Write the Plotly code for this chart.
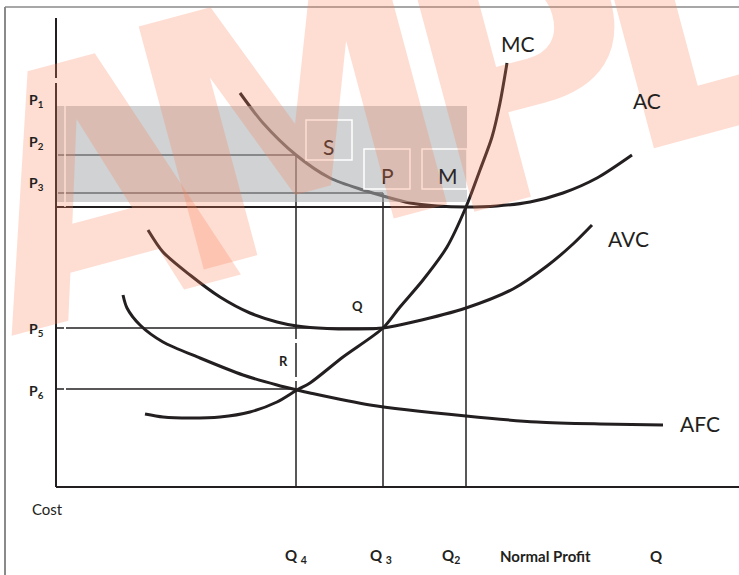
import plotly.graph_objects as go

# ---- data (x = quantity units, y = cost units; origin at the axes corner) ----
ac_q = [184, 207, 240, 274, 307, 327, 354, 381, 410, 441, 474, 507, 541, 576]
ac_c = [394, 364, 332, 309, 297, 291, 284, 281, 280, 281, 285, 294, 309, 332]

mc_q = [89, 107, 134, 164, 194, 221, 241, 254, 287, 327, 344, 367, 391, 410, 424, 436, 444, 451]
mc_c = [73, 70, 69, 70, 75, 85, 97, 104, 130, 159, 180, 207, 240, 280, 317, 350, 384, 424]

avc_q = [92, 107, 134, 164, 194, 221, 241, 271, 301, 327, 357, 410, 457, 491, 517, 536]
avc_c = [257, 235, 212, 190, 174, 165, 161, 158.5, 158, 159, 165, 179, 198, 221, 243, 262]

afc_q = [67, 71, 84, 107, 144, 187, 221, 241, 254, 314, 410, 481, 544, 607]
afc_c = [192, 179, 162, 145, 129, 112, 102, 97, 94, 82, 71, 65, 63, 62]

# quantity levels
Q4, Q3, Q2 = 240, 327, 410
# price / cost levels
P1, P2, P3, PMIN, P5, P6 = 381, 332, 294, 280, 159, 98
RECT_BOTTOM = 285

price_labels = ["P<sub>1</sub>", "P<sub>2</sub>", "P<sub>3</sub>", "P<sub>5</sub>", "P<sub>6</sub>"]
price_label_y = [387, 345, 304, 158, 96]

q_labels = ["Q <sub>4</sub>", "Q <sub>3</sub>", "Q<sub>2</sub>", "Normal Profit", "Q"]
q_label_x = [240, 325, 395, 489.5, 600]

curve_names = ["MC", "AC", "AVC", "AFC"]
curve_label_pos = [(461.5, 444), (591, 387), (572, 249), (644, 64)]

box_names = ["S", "P", "M"]
box_x0 = [250, 308, 366]
box_x1 = [296, 354, 411]
box_y0 = [327, 298, 298]
box_y1 = [367, 338, 338]
box_label_pos = [(272, 341), (331, 312), (392, 312)]

X_RANGE = [-56, 683]
Y_RANGE = [-88, 487]

INK = "#231f20"
FONT = "Lato, 'Open Sans', sans-serif"

fig = go.Figure()

def curve(qs, cs):
    fig.add_trace(go.Scatter(
        x=qs, y=cs, mode="lines",
        line=dict(color=INK, width=3, shape="spline", smoothing=0.8),
        hoverinfo="skip", showlegend=False))

for qs, cs in [(ac_q, ac_c), (mc_q, mc_c), (avc_q, avc_c), (afc_q, afc_c)]:
    curve(qs, cs)

shapes = []

def seg(x0, y0, x1, y1, color=INK, width=1.5, layer="below"):
    shapes.append(dict(type="line", xref="x", yref="y", x0=x0, y0=y0, x1=x1, y1=y1,
                       line=dict(color=color, width=width), layer=layer))

# outer frame
seg(-51, 480, -51, Y_RANGE[0], color="#8a8a8a", width=2)
seg(-51, 480, X_RANGE[1], 480, color="#8a8a8a", width=1.5)
# axes
seg(0, 0, 0, 469, width=2)
seg(0, 0, X_RANGE[1], 0, width=2)
# guide lines
seg(2, P2, Q4, P2)
seg(2, P3, Q3, P3)
seg(0, PMIN, Q2, PMIN, width=2)
seg(0, P5, Q3, P5)
seg(0, P6, Q4, P6)
seg(Q4, 0, Q4, P2)
seg(Q3, 0, Q3, P3)
seg(Q2, 0, Q2, PMIN)

# translucent grey profit band (over the lines)
shapes.append(dict(type="rect", xref="x", yref="y", x0=1, x1=Q2 + 1, y0=RECT_BOTTOM, y1=P1,
                   fillcolor="rgba(172,174,176,0.56)", line=dict(width=0), layer="above"))
seg(9, PMIN, 9, P1, color="white", width=1.5, layer="above")
# small white breaks
seg(0, 404, 0, 409, color="white", width=3, layer="above")
seg(Q4, 144, Q4, 148, color="white", width=3, layer="above")
seg(Q4, 106, Q4, 110, color="white", width=3, layer="above")
seg(9, P5 - 2, 9, P5 + 2, color="white", width=2, layer="above")
seg(9, P6 - 2, 9, P6 + 2, color="white", width=2, layer="above")

# white-outlined label boxes
for x0, x1, y0, y1 in zip(box_x0, box_x1, box_y0, box_y1):
    shapes.append(dict(type="rect", xref="x", yref="y", x0=x0, x1=x1, y0=y0, y1=y1,
                       fillcolor="rgba(0,0,0,0)", line=dict(color="white", width=1.5),
                       layer="above"))

annotations = []

def text(x, y, s, size, bold=False, xanchor="center", color=INK):
    annotations.append(dict(x=x, y=y, xref="x", yref="y", text=(f"<b>{s}</b>" if bold else s),
                            showarrow=False, xanchor=xanchor, yanchor="middle",
                            font=dict(family=FONT, size=size, color=color)))

# box letters (beneath the watermark)
for name, (x, y) in zip(box_names, box_label_pos):
    text(x, y, name, 21, color="#2b2526")

# watermark letters
wm_letters = ["A", "M", "P", "L"]
wm_pos = [(40, 298), (238, 366), (469, 413), (635, 473)]
for ch, (x, y) in zip(wm_letters, wm_pos):
    annotations.append(dict(x=x, y=y, xref="x", yref="y", text=f"<b>{ch}</b>",
                            showarrow=False, xanchor="center", yanchor="middle", textangle=-15,
                            font=dict(family="'Liberation Sans Narrow', 'DejaVu Sans Condensed', sans-serif",
                                      size=345, color="rgba(250,130,90,0.27)")))

# price labels
for s, y in zip(price_labels, price_label_y):
    text(-29, y, s, 14, bold=True, xanchor="left")
# quantity labels
for s, x in zip(q_labels, q_label_x):
    text(x, -69, s, 15, bold=True)
text(-9, -22, "Cost", 15)
text(301, 181, "Q", 13, bold=True)
text(227, 126, "R", 13, bold=True)
for name, (x, y) in zip(curve_names, curve_label_pos):
    text(x, y, name, 21)

fig.update_layout(
    width=739, height=575, autosize=False,
    margin=dict(l=0, r=0, t=0, b=0),
    paper_bgcolor="white", plot_bgcolor="white",
    xaxis=dict(range=X_RANGE, visible=False, fixedrange=True),
    yaxis=dict(range=Y_RANGE, visible=False, fixedrange=True),
    shapes=shapes, annotations=annotations, showlegend=False,
)

fig.write_html("out.html", config={"displayModeBar": False},
               post_script="document.body.style.margin='0';document.body.style.overflow='hidden';")
